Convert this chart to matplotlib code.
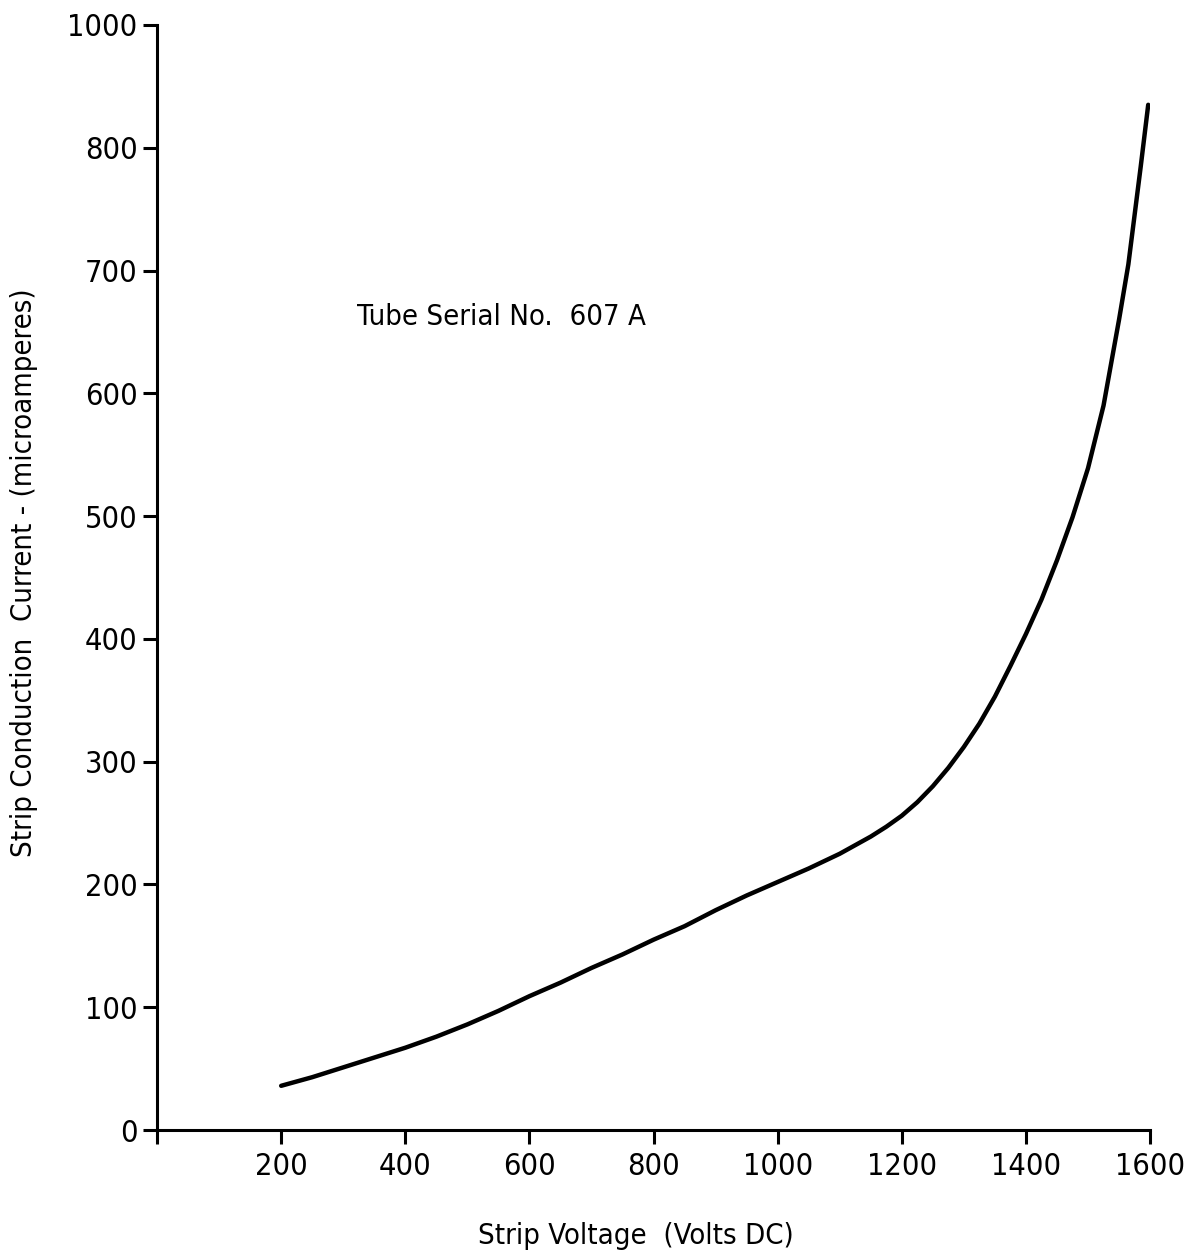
import matplotlib
matplotlib.use('Agg')
import matplotlib.pyplot as plt
from matplotlib import font_manager

# 读图估计的曲线数据（弯折处多取几个点）
voltage = [200, 250, 300, 350, 400, 450, 500, 550, 600, 650, 700, 750,
           800, 850, 900, 950, 1000, 1050, 1100, 1150, 1175, 1200, 1225,
           1250, 1275, 1300, 1325, 1350, 1375, 1400, 1425, 1450, 1475,
           1500, 1525, 1550, 1565, 1575, 1585, 1597]
current = [36, 43, 51, 59, 67, 76, 86, 97, 109, 120, 132, 143,
           155, 166, 179, 191, 202, 213, 225, 239, 247, 256, 267,
           280, 295, 312, 331, 353, 378, 404, 432, 464, 499,
           539, 590, 660, 705, 745, 785, 835]

x_ticks = [0, 200, 400, 600, 800, 1000, 1200, 1400, 1600]
x_tick_labels = ['', '200', '400', '600', '800', '1000', '1200', '1400', '1600']
y_ticks = [0, 100, 200, 300, 400, 500, 600, 700, 800, 900]
# 原图最上面的刻度标成 1000
y_tick_labels = ['0', '100', '200', '300', '400', '500', '600', '700', '800', '1000']

annotation = 'Tube Serial No.  607 A'
annotation_pos = (322, 662)

names = {f.name for f in font_manager.fontManager.ttflist}
if 'Liberation Sans Narrow' in names:
    plt.rcParams['font.family'] = ['Liberation Sans Narrow', 'DejaVu Sans']
else:
    plt.rcParams['font.family'] = ['DejaVu Sans']
    plt.rcParams['font.stretch'] = 'condensed'

ink = '#000000'

fig = plt.figure(figsize=(11.97, 12.55), dpi=100)
ax = fig.add_axes([0.1312, 0.0996, 0.8296, 0.8805])

ax.plot(voltage, current, color=ink, linewidth=3.2,
        solid_capstyle='round', solid_joinstyle='round')

ax.text(annotation_pos[0], annotation_pos[1], annotation, fontsize=21,
        ha='left', va='center', color=ink)

ax.set_xlim(0, 1600)
ax.set_ylim(0, 900)
ax.set_xticks(x_ticks)
ax.set_xticklabels(x_tick_labels)
ax.set_yticks(y_ticks)
ax.set_yticklabels(y_tick_labels)

ax.tick_params(axis='both', direction='out', length=10, width=2.2,
               labelsize=22, colors=ink)
ax.tick_params(axis='x', pad=6)
ax.tick_params(axis='y', pad=4)

for side in ('top', 'right'):
    ax.spines[side].set_visible(False)
for side in ('left', 'bottom'):
    ax.spines[side].set_linewidth(2.2)
    ax.spines[side].set_color(ink)

ax.set_xlabel('Strip Voltage  (Volts DC)', fontsize=21, color=ink)
ax.xaxis.set_label_coords(0.482, -0.083)
ax.set_ylabel('Strip Conduction  Current - (microamperes)', fontsize=21, color=ink)
ax.yaxis.set_label_coords(-0.12, 0.5045)

fig.savefig('out.png', dpi=100, facecolor='white')
plt.close(fig)
